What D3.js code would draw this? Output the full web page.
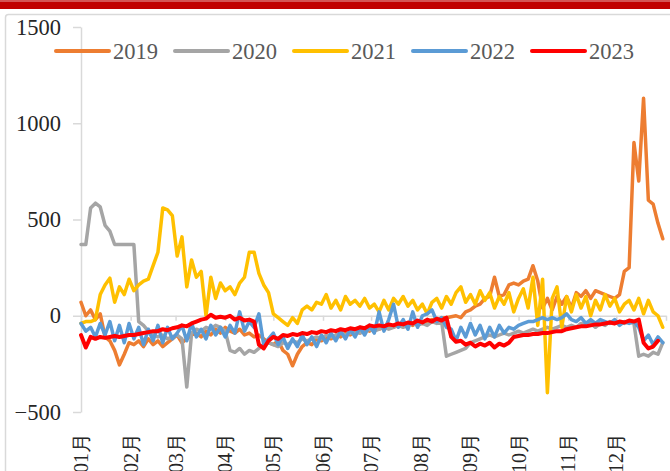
<html>
<head>
<meta charset="utf-8">
<script src="https://d3js.org/d3.v7.min.js"></script>
<style>
  body { margin:0; background:#fff; }
  text { font-family:"Liberation Serif","Times New Roman","DejaVu Serif",serif; }
</style>
</head>
<body>
<svg id="chart"></svg>
<script>

// month labels and the day each month starts
var months = ["01月","02月","03月","04月","05月","06月","07月","08月","09月","10月","11月","12月"];
var monthStart = [0,31,59,90,120,151,181,212,243,273,304,334];
var yTicks = [1500,1000,500,0,-500];
var years = ["2019","2020","2021","2022","2023"];

// one value every 3 days
var step = 3;

var s2019 = [70,0,30,-20,10,-110,-130,-180,-255,-200,
  -140,-150,-130,-160,-120,-150,-130,-160,-140,-120,
  -100,-140,-120,-100,-90,-110,-80,-100,-70,-90,
  -60,-80,-90,-70,-100,-90,-110,-100,-120,-140,
  -150,-130,-180,-200,-260,-200,-160,-140,-150,-120,
  -130,-110,-120,-100,-110,-90,-100,-80,-90,-70,
  -80,-60,-70,-60,-50,-60,-40,-50,-40,-50,
  -30,-40,-30,-20,-30,-10,-10,-5,0,-10,
  20,30,50,60,90,100,200,100,110,160,
  170,160,180,190,260,180,40,90,30,100,
  60,100,40,120,100,130,90,130,120,110,
  100,90,110,230,250,900,700,1130,600,580,
  480,400];

var s2020 = [370,370,560,585,565,470,440,370,370,370,
  370,370,-30,-50,-80,-100,-110,-100,-120,-110,
  -100,-120,-370,-90,-70,-80,-60,-70,-50,-60,
  -80,-180,-190,-170,-200,-180,-190,-170,-150,-140,
  -150,-160,-140,-150,-130,-140,-120,-130,-120,-110,
  -120,-100,-110,-100,-90,-100,-90,-80,-90,-80,
  -70,-80,-70,-60,-70,-60,-50,-60,-50,-40,
  -50,-40,-50,-30,-40,-30,-210,-200,-190,-180,
  -170,-140,-130,-120,-110,-100,-110,-100,-90,-100,
  -90,-80,-90,-80,-70,-80,-70,-60,-70,-60,
  -50,-60,-50,-60,-40,-50,-40,-60,-40,-50,
  -30,-40,-30,-40,-30,-40,-210,-200,-210,-190,
  -200,-140];

var s2021 = [-40,-30,-30,-20,110,160,195,70,150,110,
  190,130,160,180,190,260,330,560,550,520,
  310,410,150,290,200,230,0,200,90,170,
  130,150,110,170,200,330,330,220,160,120,
  10,-10,-30,-50,-10,-40,30,50,30,70,
  60,110,40,80,30,100,60,80,50,90,
  40,60,20,80,30,90,60,100,50,80,
  30,60,10,70,90,40,100,60,120,150,
  70,110,60,130,80,120,40,100,60,120,
  20,90,140,40,200,-50,190,-400,90,150,
  -60,100,20,110,40,100,0,80,30,110,
  50,90,20,60,80,30,90,10,80,20,
  0,-60];

var s2022 = [-40,-80,-60,-110,-40,-100,-30,-130,-50,-140,
  -40,-120,-60,-150,-70,-130,-50,-140,-60,-120,
  -90,-50,-130,-40,-110,-70,-120,-50,-100,-60,
  -110,-50,-90,20,-80,-30,-60,10,-150,-120,
  -90,-150,-110,-170,-120,-160,-100,-150,-110,-160,
  -100,-140,-90,-130,-80,-120,-70,-110,-60,-100,
  -50,-90,20,-80,-20,60,-60,-20,-70,20,
  -60,0,10,30,-30,-10,-60,-70,-130,-60,
  -110,-40,-100,-50,-120,-60,-110,-50,-90,-60,
  -70,-50,-40,-30,-30,-20,-10,-20,-10,-20,
  -10,10,-20,-30,-10,-40,-20,-40,-20,-30,
  -40,-20,-50,-30,-40,-30,-60,-130,-100,-150,
  -110,-140];

var s2023 = [-100,-165,-110,-120,-110,-115,-110,-105,-110,-105,
  -100,-100,-95,-90,-85,-80,-80,-70,-75,-65,
  -60,-50,-55,-40,-30,-20,-15,5,-10,-5,
  -10,0,-20,-10,-25,-20,-30,-150,-170,-130,
  -110,-120,-100,-105,-95,-100,-90,-95,-85,-90,
  -80,-85,-75,-80,-70,-75,-65,-70,-60,-65,
  -50,-55,-50,-55,-45,-50,-40,-45,-35,-40,
  -25,-35,-20,-30,-15,-25,-10,-110,-135,-130,
  -150,-140,-160,-145,-155,-140,-165,-145,-155,-140,
  -110,-105,-100,-100,-95,-95,-90,-90,-85,-80,
  -80,-70,-65,-60,-55,-55,-50,-45,-45,-40,
  -35,-40,-30,-35,-25,-30,-20,-140,-170,-160,
  -130];

var seriesData = [s2019,s2020,s2021,s2022,s2023];
var colors = ["#ED7D31","#A5A5A5","#FFC000","#5B9BD5","#FF0000"];
var widths = [3.5,3.5,3.5,3.5,4];
var serif = "'Liberation Serif','Times New Roman','DejaVu Serif',serif";

var screen = {width:670, height:471};

var svg = d3.select("#chart")
    .attr("width",screen.width)
    .attr("height",screen.height);

//frame and red band on top
svg.append("rect")
    .attr("x",5.5).attr("y",14.5)
    .attr("width",700).attr("height",520)
    .attr("rx",3)
    .attr("fill","#fff")
    .attr("stroke","#d9d9d9")
    .attr("stroke-width",1.5);
svg.append("rect")
    .attr("x",0).attr("y",0)
    .attr("width",screen.width).attr("height",9)
    .attr("fill","#c00000");
svg.append("rect")
    .attr("x",0).attr("y",0)
    .attr("width",screen.width).attr("height",2)
    .attr("fill","#d45454");

//scales
var xScale = d3.scaleLinear()
    .domain([0,365])
    .range([81,666]);

var yScale = d3.scaleLinear()
    .domain([-500,1500])
    .range([412,27]);

//y axis
var yAxis = d3.axisLeft(yScale)
    .tickValues(yTicks)
    .tickFormat(d3.format("d"))
    .tickSize(8)
    .tickSizeOuter(0)
    .tickPadding(12);

var gy = svg.append("g")
    .attr("transform","translate(81,0)")
    .call(yAxis)
    .attr("font-family",serif);
gy.select(".domain").attr("stroke","#d9d9d9").attr("stroke-width",1.5);
gy.selectAll(".tick line").attr("stroke","#d9d9d9").attr("stroke-width",1.5);
gy.selectAll(".tick text")
    .attr("fill","#262626")
    .style("font-size","22.5px")
    .style("font-family",serif);

//x axis sits on the zero line
var xAxis = d3.axisBottom(xScale)
    .tickValues(monthStart.concat([365]))
    .tickFormat("")
    .tickSize(5)
    .tickSizeOuter(0);

var gx = svg.append("g")
    .attr("transform","translate(0,"+yScale(0)+")")
    .call(xAxis);
gx.select(".domain").attr("stroke","#d9d9d9").attr("stroke-width",1.5);
gx.selectAll(".tick line").attr("stroke","#d9d9d9").attr("stroke-width",1.5);

//month labels at the bottom, rotated
svg.append("g")
    .selectAll("text")
    .data(months)
    .enter()
    .append("text")
    .text(function(d){ return d; })
    .attr("text-anchor","end")
    .attr("dy","0.35em")
    .attr("transform",function(d,i){
        return "translate("+xScale(monthStart[i])+",433) rotate(-90)";
    })
    .attr("fill","#262626")
    .style("font-family",serif)
    .style("font-size","20px");

//lines
var line = d3.line()
    .x(function(v,i){ return xScale(i*step); })
    .y(function(v){ return yScale(v); });

svg.append("g")
    .selectAll("path")
    .data(seriesData)
    .enter()
    .append("path")
    .attr("d",line)
    .attr("fill","none")
    .attr("stroke",function(d,i){ return colors[i]; })
    .attr("stroke-width",function(d,i){ return widths[i]; })
    .attr("stroke-linejoin","round")
    .attr("stroke-linecap","round");

//legend
var legend = svg.append("g")
    .selectAll("g")
    .data(years)
    .enter()
    .append("g")
    .attr("transform",function(d,i){ return "translate("+(56+119*i)+",0)"; });

legend.append("line")
    .attr("x1",0).attr("x2",53)
    .attr("y1",51).attr("y2",51)
    .attr("stroke",function(d,i){ return colors[i]; })
    .attr("stroke-width",4)
    .attr("stroke-linecap","round");

legend.append("text")
    .text(function(d){ return d; })
    .attr("x",57)
    .attr("y",59)
    .attr("fill","#595959")
    .style("font-family",serif)
    .style("font-size","22.5px");

</script>
</body>
</html>
